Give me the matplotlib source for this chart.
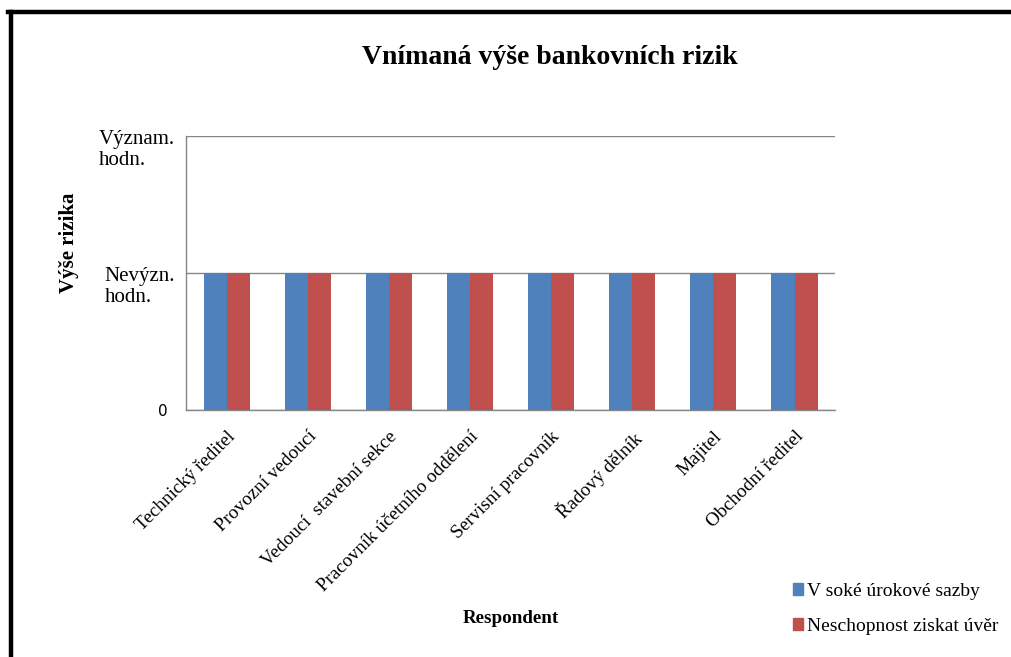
import numpy as np
import matplotlib.pyplot as plt
from matplotlib.lines import Line2D
from matplotlib.patches import Patch
from matplotlib.transforms import ScaledTranslation

plt.rcParams['font.family'] = ['Liberation Serif', 'DejaVu Serif']

# respondent groups and perceived risk level (0 = none, 1 = nevýznamná, 2 = významná)
respondents = ["Technický ředitel", "Provozní vedoucí", "Vedoucí  stavební sekce",
               "Pracovník účetního oddělení", "Servisní pracovník", "Řadový dělník",
               "Majitel", "Obchodní ředitel"]
high_rates = [1, 1, 1, 1, 1, 1, 1, 1]
no_credit = [1, 1, 1, 1, 1, 1, 1, 1]
series_names = ["V soké úrokové sazby", "Neschopnost ziskat úvěr"]
level_ticks = [0, 1, 2]
level_labels = ["0", "Nevýzn.\nhodn.", "Význam.\nhodn."]

blue = "#4F81BD"
red = "#C0504D"
axis_gray = "#868686"

fig = plt.figure(figsize=(10.11, 6.57), dpi=100)
ax = fig.add_axes([0.184, 0.376, 0.642, 0.417])

x = np.arange(len(respondents))
w = 0.284
ax.bar(x - w / 2, high_rates, w, color=blue, zorder=3)
ax.bar(x + w / 2, no_credit, w, color=red, zorder=3)

ax.set_xlim(-0.5, len(respondents) - 0.5)
ax.set_ylim(0, 2)
ax.set_yticks(level_ticks)
ax.set_yticklabels(level_labels, fontsize=15, ha='right', multialignment='left',
                   linespacing=1.1)
ax.yaxis.grid(True, color=axis_gray, linewidth=1, zorder=0)
ax.tick_params(axis='y', length=0, pad=8)
for lbl in ax.get_yticklabels():
    if lbl.get_text() == "0":
        lbl.set_fontfamily('DejaVu Sans')
        lbl.set_fontsize(11)
        lbl.set_transform(lbl.get_transform() + ScaledTranslation(-7 / 100, 0, fig.dpi_scale_trans))
    else:
        lbl.set_transform(lbl.get_transform() + ScaledTranslation(0, -11 / 100, fig.dpi_scale_trans))

ax.set_xticks(x)
ax.set_xticklabels(respondents, fontsize=13.8, rotation=45, ha='right',
                   rotation_mode='anchor')
ax.tick_params(axis='x', length=0, pad=13)

for side in ['top', 'right']:
    ax.spines[side].set_visible(False)
for side in ['left', 'bottom']:
    ax.spines[side].set_color(axis_gray)
    ax.spines[side].set_linewidth(1)

ax.set_ylabel("Výše rizika", fontsize=15, fontweight='bold')
ax.yaxis.set_label_coords(-0.165, 0.61)
fig.text(0.505, 0.059, "Respondent", fontsize=13.7, fontweight='bold', ha='center', va='center')
fig.text(0.544, 0.913, "Vnímaná výše bankovních rizik", fontsize=20, fontweight='bold',
         ha='center', va='center')

handles = [Patch(color=blue), Patch(color=red)]
fig.legend(handles, series_names, loc='upper left', bbox_to_anchor=(0.784, 0.113),
           frameon=False, fontsize=14, handlelength=0.55, handleheight=0.55,
           handletextpad=0.2, labelspacing=0.95, borderaxespad=0, borderpad=0)

# heavy frame edge along the top and left
fig.add_artist(Line2D([8 / 1011, 1], [1 - 11.5 / 657] * 2, color='black', linewidth=3.2,
                      transform=fig.transFigure, solid_capstyle='projecting'))
fig.add_artist(Line2D([10.5 / 1011] * 2, [0, 1 - 11.5 / 657], color='black', linewidth=3.2,
                      transform=fig.transFigure, solid_capstyle='projecting'))

fig.savefig("out.png", dpi=100)
